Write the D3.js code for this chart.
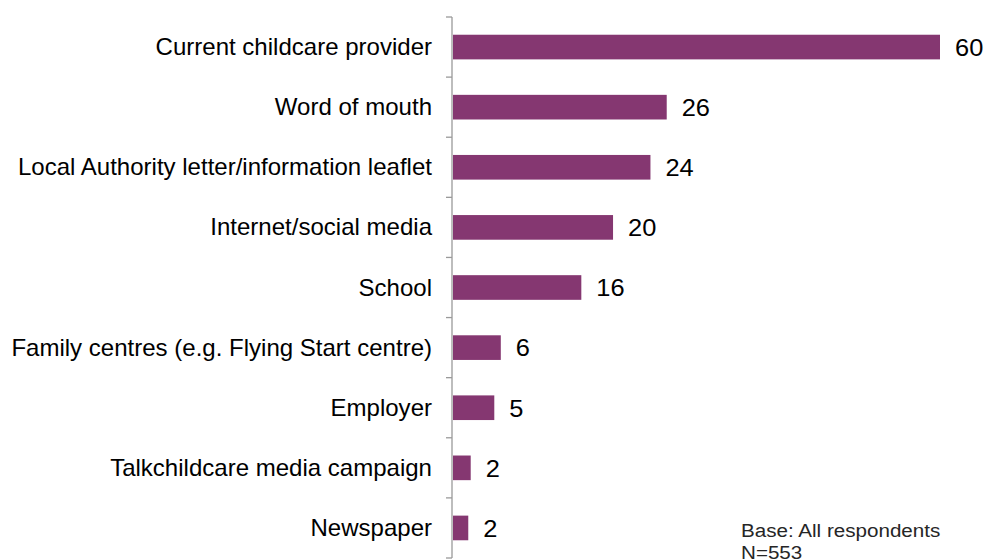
<!DOCTYPE html>
<html>
<head>
<meta charset="utf-8">
<script src="https://cdn.jsdelivr.net/npm/d3@7"></script>
<style>
  body { margin: 0; background: #fff; }
  svg text { font-family: "Liberation Sans", Arial, sans-serif; fill: #000; }
</style>
</head>
<body>
<div id="chart"></div>
<script>
const sources = [
  "Current childcare provider",
  "Word of mouth",
  "Local Authority letter/information leaflet",
  "Internet/social media",
  "School",
  "Family centres (e.g. Flying Start centre)",
  "Employer",
  "Talkchildcare media campaign",
  "Newspaper"
];
const percents = [60, 26.4, 24.4, 19.8, 15.9, 6.0, 5.2, 2.3, 2.0];
const baseNote = ["Base: All respondents", "N=553"];

const W = 986, H = 560;
const margin = { left: 452, top: 17, right: 46, bottom: 2 };

const svg = d3.select("#chart").append("svg")
  .attr("width", W)
  .attr("height", H);

const x = d3.scaleLinear()
  .domain([0, 60])
  .range([margin.left, 940]);

const y = d3.scaleBand()
  .domain(sources)
  .range([margin.top, H - margin.bottom])
  .paddingInner(0.59)
  .paddingOuter(0.295);

// category axis: ticks sit on the band boundaries
const bounds = d3.range(sources.length + 1).map(i => margin.top + i * y.step());
const axis = svg.append("g");
axis.append("line")
  .attr("x1", margin.left).attr("x2", margin.left)
  .attr("y1", margin.top).attr("y2", H - margin.bottom)
  .attr("stroke", "#9a9a9a").attr("stroke-width", 1.3);
axis.selectAll("line.tick")
  .data(bounds)
  .enter().append("line")
  .attr("class", "tick")
  .attr("x1", margin.left - 6).attr("x2", margin.left)
  .attr("y1", d => d).attr("y2", d => d)
  .attr("stroke", "#9a9a9a").attr("stroke-width", 1.3);

axis.selectAll("text")
  .data(sources)
  .enter().append("text")
  .attr("transform", d => `translate(432,${y(d) + y.bandwidth() / 2}) scale(1.045,1)`)
  .attr("dy", "0.35em")
  .attr("text-anchor", "end")
  .style("font-size", "23px")
  .text(d => d);

svg.selectAll("rect.bar")
  .data(percents)
  .enter().append("rect")
  .attr("class", "bar")
  .attr("x", x(0) + 1)
  .attr("y", (d, i) => y(sources[i]))
  .attr("width", d => x(d) - x(0) - 1)
  .attr("height", y.bandwidth())
  .attr("fill", "#853771");

svg.selectAll("text.val")
  .data(percents)
  .enter().append("text")
  .attr("class", "val")
  .attr("transform", (d, i) => `translate(${x(d) + 15},${y(sources[i]) + y.bandwidth() / 2}) scale(1.06,1)`)
  .attr("dy", "0.37em")
  .style("font-size", "24px")
  .text(d => Math.round(d));

svg.selectAll("text.note")
  .data(baseNote)
  .enter().append("text")
  .attr("class", "note")
  .attr("transform", (d, i) => `translate(741,${537 + i * 22}) scale(1.085,1)`)
  .style("font-size", "19px")
  .style("fill", "#262626")
  .text(d => d);
</script>
</body>
</html>
